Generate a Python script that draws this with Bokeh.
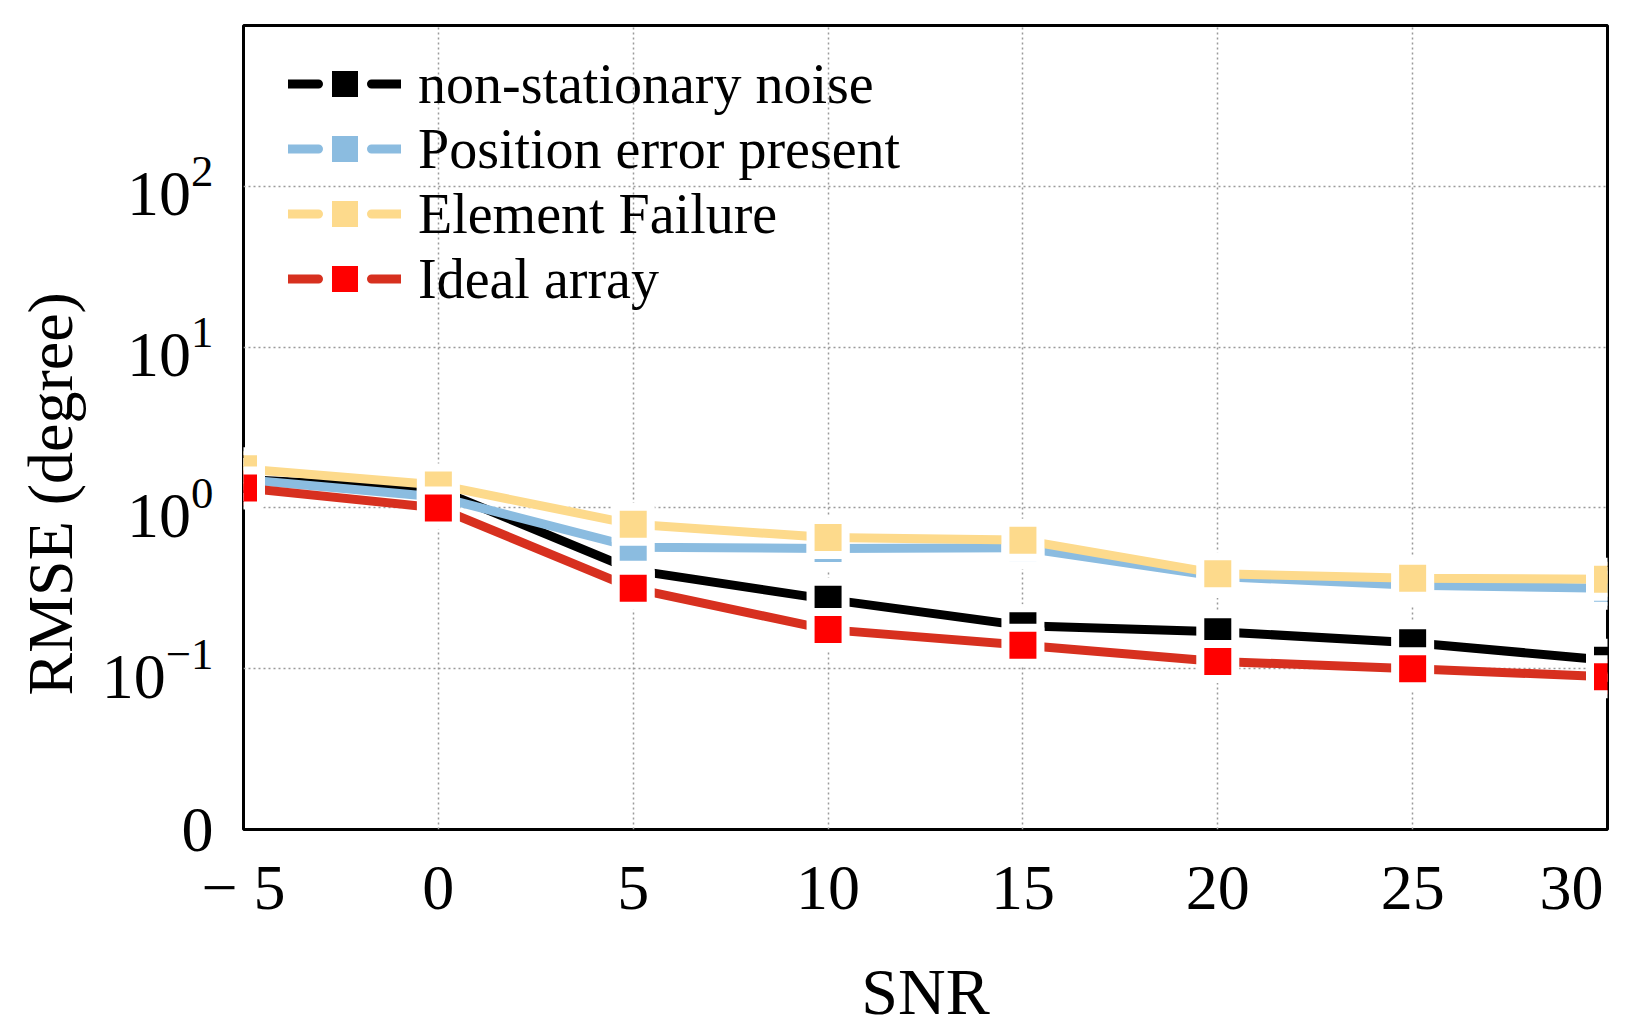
from bokeh.plotting import figure
from bokeh.models import Range1d, FixedTicker, Legend, LegendItem, Title
from bokeh.embed import file_html
from bokeh.resources import INLINE

# SNR values (x) and RMSE per scenario
snr = [-5, 0, 5, 10, 15, 20, 25, 30]
rmse_nonstationary = [1.50, 1.30, 0.41, 0.27, 0.185, 0.170, 0.145, 0.113]
rmse_position_err = [1.50, 1.17, 0.57, 0.56, 0.565, 0.375, 0.330, 0.316]
rmse_elem_failure = [1.75, 1.39, 0.79, 0.655, 0.630, 0.390, 0.365, 0.360]
rmse_ideal = [1.33, 1.00, 0.316, 0.175, 0.140, 0.111, 0.100, 0.089]

series_names = ["non-stationary noise", "Position error present", "Element Failure", "Ideal array"]

x_tick_values = [-5, 0, 5, 10, 15, 20, 25, 30]
# last label padded with a no-break space so it stays inside the page, as in the original
x_tick_labels = ["\u2212 5", "0", "5", "10", "15", "20", "25", "30\u00a0"]
y_tick_values = [0.01, 0.1, 1, 10, 100]
y_bottom_label = "0"   # the 10^-2 tick is written as 0

SERIF = "Liberation Serif"

p = figure(frame_width=1364, frame_height=804, y_axis_type="log",
           x_range=Range1d(-5, 30), y_range=Range1d(0.01, 1000),
           output_backend="svg", toolbar_location=None,
           min_border_left=242, min_border_right=12, min_border_top=25, min_border_bottom=0)

p.outline_line_color = "black"
p.outline_line_width = 3
p.background_fill_color = "white"
p.border_fill_color = "white"

# axes
p.xaxis.ticker = FixedTicker(ticks=x_tick_values)
p.xaxis.major_label_overrides = dict(zip(x_tick_values, x_tick_labels))
p.yaxis.ticker = FixedTicker(ticks=y_tick_values)
p.yaxis.major_label_overrides = {y_tick_values[0]: y_bottom_label}
for ax in (p.xaxis, p.yaxis):
    ax.axis_line_color = None
    ax.major_tick_line_color = None
    ax.minor_tick_line_color = None
    ax.major_label_text_font = SERIF
    ax.major_label_text_font_size = "64px"
    ax.major_label_text_color = "black"
p.xaxis.major_label_standoff = 16
p.yaxis.major_label_standoff = 24
p.xaxis.axis_label = "SNR"
p.xaxis.axis_label_text_font = SERIF
p.xaxis.axis_label_text_font_size = "66px"
p.xaxis.axis_label_text_font_style = "normal"
p.xaxis.axis_label_text_color = "black"
p.xaxis.axis_label_standoff = 29

# y label as a side title so it can sit lower than the frame centre
ytitle = Title(text="RMSE (degree)", align="left", offset=134, standoff=25,
               text_font=SERIF, text_font_size="64px", text_font_style="normal",
               text_color="black")
p.add_layout(ytitle, "left")

# grid
p.xgrid.ticker = FixedTicker(ticks=[0, 5, 10, 15, 20, 25])
p.ygrid.ticker = FixedTicker(ticks=[0.1, 1, 10, 100])
for g in (p.xgrid, p.ygrid):
    g.grid_line_color = "#9a9a9a"
    g.grid_line_width = 1.5
    g.grid_line_dash = "2 3"
p.ygrid.minor_grid_line_color = None

colors_line = ["#000000", "#8BBCE0", "#FDDA8C", "#D7301F"]
colors_mark = ["#000000", "#8BBCE0", "#FDDA8C", "#FF0000"]
all_series = [rmse_nonstationary, rmse_position_err, rmse_elem_failure, rmse_ideal]

items = []
for name, ys, lc, mc in zip(series_names, all_series, colors_line, colors_mark):
    p.line(snr, ys, line_color=lc, line_width=9, line_cap="round")
    p.scatter(snr, ys, marker="square", size=35, fill_color=mc,
              line_color="white", line_width=8)
    # legend-only look: dashes either side of the square
    leg_line = p.line(snr, ys, line_color=lc, line_width=9, line_cap="round",
                      line_dash="30 53", visible=False)
    leg_mark = p.scatter(snr, ys, marker="square", size=35, fill_color=mc,
                         line_color=None, visible=False)
    items.append(LegendItem(label=name, renderers=[leg_line, leg_mark]))

legend = Legend(items=items, location=(45, 518), padding=0, margin=0, spacing=0,
                glyph_width=113, glyph_height=65, label_standoff=17,
                label_text_font=SERIF, label_text_font_size="56px", label_text_color="black",
                border_line_color=None, background_fill_alpha=0)
p.add_layout(legend, "center")

open("out.html", "w").write(file_html(p, INLINE))
